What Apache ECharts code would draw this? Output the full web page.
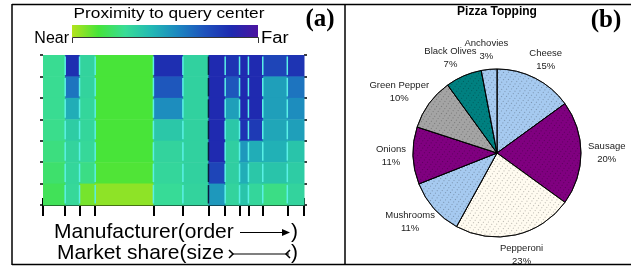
<!DOCTYPE html>
<html>
<head>
<meta charset="utf-8">
<script src="https://cdn.jsdelivr.net/npm/echarts@6/dist/echarts.min.js"></script>
<style>
  html, body { margin: 0; padding: 0; background: #fff; }
  #chart { width: 631px; height: 267px; }
</style>
</head>
<body>
<div id="chart"></div>
<script>
// (a) manufacturers: market share sets column width, rows top -> bottom
const shares = [8.5, 5.5, 6.0, 22.3, 11.3, 9.8, 6.4, 5.5, 3.4, 5.5, 9.4, 6.4];
const proximity = [
  [0.28, 0.28, 0.28, 0.27, 0.25, 0.22, 0.19],
  [0.84, 0.62, 0.46, 0.35, 0.32, 0.31, 0.30],
  [0.32, 0.32, 0.31, 0.31, 0.30, 0.26, 0.08],
  [0.14, 0.14, 0.14, 0.14, 0.14, 0.13, 0.05],
  [0.84, 0.70, 0.55, 0.37, 0.32, 0.31, 0.29],
  [0.33, 0.33, 0.33, 0.33, 0.33, 0.33, 0.32],
  [0.86, 0.86, 0.86, 0.86, 0.86, 0.76, 0.52],
  [0.82, 0.70, 0.50, 0.37, 0.34, 0.34, 0.32],
  [0.86, 0.86, 0.86, 0.82, 0.52, 0.46, 0.38],
  [0.86, 0.86, 0.86, 0.80, 0.46, 0.37, 0.31],
  [0.76, 0.50, 0.50, 0.48, 0.45, 0.38, 0.26],
  [0.82, 0.62, 0.55, 0.50, 0.38, 0.35, 0.32]
];
const rowCount = 7;
const darkEdge = 6; // column whose left edge is drawn dark
const scaleColors = ['#b4e31c', '#46e43a', '#38dc96', '#22b8b4', '#1c86c0', '#1e52bc', '#1e2ab0', '#4c14a0'];

// (b) pie
const toppings = ['Cheese', 'Sausage', 'Pepperoni', 'Mushrooms', 'Onions', 'Green Pepper', 'Black Olives', 'Anchovies'];
const toppingShares = [15, 20, 23, 11, 11, 10, 7, 3];
const toppingColors = ['#a6caf0', '#800080', '#fffbf0', '#a6caf0', '#800080', '#a4a4a4', '#008080', '#a6caf0'];

const pieCenter = [497, 153];
const pieRadius = 84;

const starts = [];
let total = 0;
shares.forEach(function (s, i) { starts[i] = total; total += s; });
const bounds = starts.concat([total]);

const cells = [];
proximity.forEach(function (col, c) {
  col.forEach(function (v, r) { cells.push([c, r, v]); });
});

function renderCell(params, api) {
  const c = api.value(0), r = api.value(1);
  const p0 = api.coord([starts[c], r]);
  const p1 = api.coord([starts[c] + shares[c], r + 1]);
  const x = p0[0], y = Math.min(p0[1], p1[1]);
  const w = p1[0] - p0[0], h = Math.abs(p1[1] - p0[1]);
  const children = [{
    type: 'rect',
    shape: { x: x, y: y, width: w + 0.5, height: h + 0.5 },
    style: { fill: api.visual('color') }
  }];
  if (c > 0) {
    children.push({
      type: 'line',
      shape: { x1: x, y1: y + 1.5, x2: x, y2: y + h - 1.5 },
      style: { stroke: c === darkEdge ? '#0a1a40' : '#5af0e6', lineWidth: 1.5 }
    });
  }
  return { type: 'group', children: children };
}

const chart = echarts.init(document.getElementById('chart'));
const font = 'Liberation Sans, Arial, sans-serif';
const serif = 'Liberation Serif, Times New Roman, serif';
const gridTop = 55, gridBottom = 62;
const gridHeight = 267 - gridTop - gridBottom;

const barGradient = new echarts.graphic.LinearGradient(0, 0, 1, 0,
  scaleColors.map(function (c, i) { return { offset: i / (scaleColors.length - 1), color: c }; }));

const rowTicks = { show: true, length: 3, lineStyle: { color: '#000', width: 1.5 } };

chart.setOption({
  animation: false,
  grid: { left: 43, right: 327, top: gridTop, bottom: gridBottom },
  xAxis: [{
    type: 'value', min: 0, max: total,
    axisLine: { onZero: false, lineStyle: { color: '#000', width: 2 } },
    axisTick: { show: true, customValues: bounds, length: 11, lineStyle: { color: '#000', width: 2 } },
    axisLabel: { show: false }, splitLine: { show: false }
  }, {
    // upper half of the crossing ticks: a top axis pulled down onto the bottom edge
    type: 'value', min: 0, max: total, position: 'top', offset: -gridHeight,
    axisLine: { show: false, onZero: false },
    axisTick: { show: true, customValues: bounds, length: 7, lineStyle: { color: '#000', width: 2 } },
    axisLabel: { show: false }, splitLine: { show: false }
  }],
  yAxis: [{
    type: 'value', min: 0, max: rowCount, interval: 1, inverse: true,
    axisLine: { show: false, onZero: false },
    axisTick: rowTicks,
    axisLabel: { show: false }, splitLine: { show: false }
  }, {
    type: 'value', min: 0, max: rowCount, interval: 1, inverse: true, position: 'right',
    axisLine: { show: false, onZero: false },
    axisTick: rowTicks,
    axisLabel: { show: false }, splitLine: { show: false }
  }],
  visualMap: {
    show: false, seriesIndex: 0, dimension: 2, min: 0, max: 1,
    inRange: { color: scaleColors }
  },
  series: [{
    type: 'custom',
    renderItem: renderCell,
    data: cells,
    encode: { x: 0, y: 1 },
    silent: true
  }, {
    type: 'pie',
    center: pieCenter,
    radius: pieRadius,
    startAngle: 90,
    clockwise: true,
    avoidLabelOverlap: false,
    silent: true,
    data: toppings.map(function (name, i) {
      return {
        name: name,
        value: toppingShares[i],
        itemStyle: {
          color: toppingColors[i],
          decal: {
            symbol: 'rect', symbolSize: 1,
            dashArrayX: [1, 3], dashArrayY: [1, 2], rotation: 0.6,
            color: 'rgba(0,0,0,0.28)'
          }
        }
      };
    }),
    itemStyle: { borderColor: '#000', borderWidth: 0.8 },
    label: {
      position: 'outside',
      formatter: function (p) { return p.name + '\n' + p.value + '%'; },
      fontFamily: font, fontSize: 9.5, lineHeight: 13, color: '#222', align: 'center'
    },
    labelLine: { show: false, length: 6, length2: 0 },
    labelLayout: function (p) {
      const i = p.dataIndex;
      let before = 0;
      for (let k = 0; k < i; k++) before += toppingShares[k];
      const mid = (before + toppingShares[i] / 2) / 100 * Math.PI * 2;
      const ux = Math.sin(mid), uy = -Math.cos(mid);
      const d = pieRadius + 7;
      return {
        x: pieCenter[0] + d * ux + p.labelRect.width / 2 * ux,
        y: pieCenter[1] + d * uy + p.labelRect.height / 2 * uy,
        align: 'center', verticalAlign: 'middle'
      };
    }
  }],
  graphic: { elements: [
    // frame
    { type: 'line', shape: { x1: 12, y1: 4.5, x2: 631, y2: 4.5 }, style: { stroke: '#000', lineWidth: 1.5 } },
    { type: 'line', shape: { x1: 12, y1: 264.5, x2: 631, y2: 264.5 }, style: { stroke: '#000', lineWidth: 1.5 } },
    { type: 'line', shape: { x1: 12, y1: 4, x2: 12, y2: 265 }, style: { stroke: '#000', lineWidth: 1.5 } },
    { type: 'line', shape: { x1: 345, y1: 4, x2: 345, y2: 265 }, style: { stroke: '#000', lineWidth: 1.5 } },
    // colour legend
    { type: 'text', x: 169, y: 14, scaleX: 1.15, style: { text: 'Proximity to query center', font: '15px ' + font, fill: '#000', align: 'center', verticalAlign: 'middle' } },
    { type: 'rect', shape: { x: 72, y: 25, width: 186, height: 12 }, style: { fill: barGradient } },
    { type: 'polyline', shape: { points: [[72.5, 43], [72.5, 37.5], [258.5, 37.5], [258.5, 43]] }, style: { stroke: '#333', lineWidth: 1, fill: null } },
    { type: 'text', x: 69, y: 39, style: { text: 'Near', font: '16px ' + font, fill: '#000', align: 'right', verticalAlign: 'middle' } },
    { type: 'text', x: 261, y: 39, scaleX: 1.15, style: { text: 'Far', font: '16px ' + font, fill: '#000', align: 'left', verticalAlign: 'middle' } },
    { type: 'text', x: 320, y: 20, style: { text: '(a)', font: 'bold 25px ' + serif, fill: '#000', align: 'center', verticalAlign: 'middle' } },
    { type: 'text', x: 606, y: 21, style: { text: '(b)', font: 'bold 25px ' + serif, fill: '#000', align: 'center', verticalAlign: 'middle' } },
    // order / size key inside the plot
    { type: 'rect', shape: { x: 100.5, y: 180.5, width: 37, height: 5 }, style: { fill: null, stroke: '#000', lineWidth: 1 } },
    { type: 'polygon', shape: { points: [[136, 177], [143, 180.5], [136, 183]] }, style: { fill: '#000' } },
    { type: 'line', shape: { x1: 100.5, y1: 180.5, x2: 138, y2: 180.5 }, style: { stroke: '#000', lineWidth: 1.5 } },
    { type: 'rect', shape: { x: 100.5, y: 187.5, width: 46, height: 5 }, style: { fill: null, stroke: '#000', lineWidth: 1 } },
    // axis captions
    { type: 'text', x: 54, y: 232, style: { text: 'Manufacturer(order', font: '21px ' + font, fill: '#000', align: 'left', verticalAlign: 'middle' } },
    { type: 'line', shape: { x1: 240, y1: 232.5, x2: 286, y2: 232.5 }, style: { stroke: '#000', lineWidth: 1.2 } },
    { type: 'polygon', shape: { points: [[282, 229], [290, 232.5], [282, 236]] }, style: { fill: '#000' } },
    { type: 'text', x: 291, y: 232, style: { text: ')', font: '21px ' + font, fill: '#000', align: 'left', verticalAlign: 'middle' } },
    { type: 'text', x: 57, y: 253, style: { text: 'Market share(size', font: '21px ' + font, fill: '#000', align: 'left', verticalAlign: 'middle' } },
    { type: 'polyline', shape: { points: [[229, 250], [233, 254], [229, 258]] }, style: { stroke: '#000', lineWidth: 1.5, fill: null } },
    { type: 'line', shape: { x1: 232, y1: 254, x2: 289, y2: 254 }, style: { stroke: '#000', lineWidth: 1.2 } },
    { type: 'polyline', shape: { points: [[290, 250], [286, 254], [290, 258]] }, style: { stroke: '#000', lineWidth: 1.5, fill: null } },
    { type: 'text', x: 291, y: 253, style: { text: ')', font: '21px ' + font, fill: '#000', align: 'left', verticalAlign: 'middle' } },
    // pie title
    { type: 'text', x: 497, y: 12, style: { text: 'Pizza Topping', font: 'bold 12px ' + font, fill: '#000', align: 'center', verticalAlign: 'middle' } }
  ] }
});
</script>
</body>
</html>
